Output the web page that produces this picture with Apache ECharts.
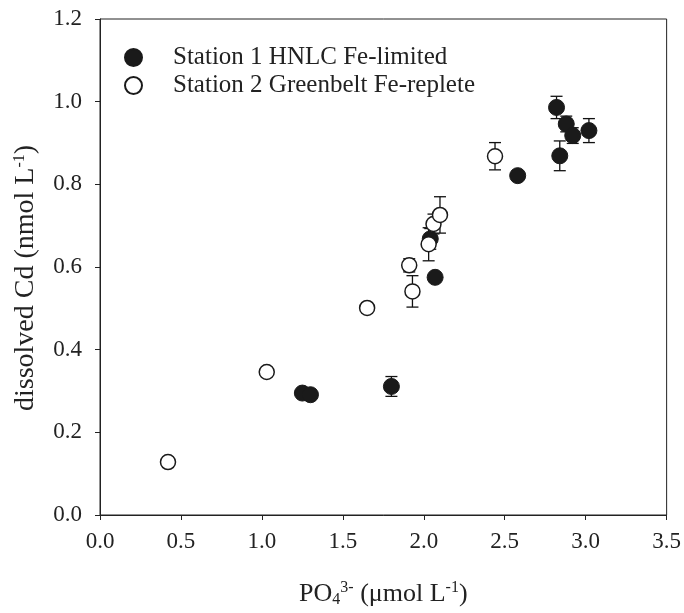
<!DOCTYPE html>
<html>
<head>
<meta charset="utf-8">
<script src="https://cdn.jsdelivr.net/npm/echarts@6/dist/echarts.min.js"></script>
<style>
html,body{margin:0;padding:0;background:#fff;}
#chart{width:684px;height:613px;}
</style>
</head>
<body>
<div id="chart"></div>
<script>
// Station 1 HNLC Fe-limited (filled)
var s1X = [1.25, 1.30, 1.80, 2.04, 2.07, 2.58, 2.82, 2.84, 2.88, 2.92, 3.02];
var s1Y = [0.295, 0.291, 0.311, 0.668, 0.575, 0.821, 0.986, 0.869, 0.946, 0.918, 0.930];
var s1Err = [0, 0, 0.024, 0.025, 0, 0, 0.027, 0.036, 0.019, 0.019, 0.029];
// Station 2 Greenbelt Fe-replete (open)
var s2X = [0.42, 1.03, 1.65, 1.91, 1.93, 2.03, 2.06, 2.10, 2.44];
var s2Y = [0.128, 0.346, 0.501, 0.604, 0.541, 0.655, 0.704, 0.726, 0.868];
var s2Err = [0, 0, 0, 0.016, 0.038, 0.040, 0.024, 0.044, 0.033];

var seriesNames = ["Station 1 HNLC Fe-limited", "Station 2 Greenbelt Fe-replete"];

var font = "'Liberation Serif', 'Times New Roman', serif";

function zip(xs, ys) {
  return xs.map(function (x, i) { return [x, ys[i]]; });
}
function errData(xs, ys, es) {
  var out = [];
  xs.forEach(function (x, i) {
    if (es[i] > 0) out.push([x, ys[i] - es[i], ys[i] + es[i]]);
  });
  return out;
}

// 误差棒
function renderErr(params, api) {
  var x = api.value(0);
  var lo = api.coord([x, api.value(1)]);
  var hi = api.coord([x, api.value(2)]);
  var cap = 6;
  var st = { stroke: "#111", lineWidth: 1.3 };
  return {
    type: "group",
    children: [
      { type: "line", shape: { x1: lo[0], y1: lo[1], x2: hi[0], y2: hi[1] }, style: st },
      { type: "line", shape: { x1: lo[0] - cap, y1: lo[1], x2: lo[0] + cap, y2: lo[1] }, style: st },
      { type: "line", shape: { x1: hi[0] - cap, y1: hi[1], x2: hi[0] + cap, y2: hi[1] }, style: st }
    ]
  };
}

var myChart = echarts.init(document.getElementById("chart"));
var option = {
  backgroundColor: "#fff",
  animation: false,
  grid: {
    left: 100,
    right: 12,
    top: 19,
    bottom: 93,
    show: true,
    borderColor: "#222",
    borderWidth: 1
  },
  legend: {
    left: 119,
    top: 40,
    orient: "vertical",
    itemWidth: 17,
    itemHeight: 17,
    itemGap: 3,
    data: [
      { name: seriesNames[0], icon: "circle" },
      { name: seriesNames[1], icon: "circle" }
    ],
    textStyle: { fontFamily: font, fontSize: 25, color: "#222", padding: [0, 0, 0, 26] }
  },
  xAxis: {
    type: "value",
    min: 0,
    max: 3.5,
    interval: 0.5,
    name: "{n|PO}{sub|4}{sup|3-}{n| (μmol L}{sup|-1}{n|)}",
    nameLocation: "middle",
    nameGap: 65,
    nameTextStyle: {
      fontFamily: font,
      color: "#222",
      rich: {
        n: { fontFamily: font, fontSize: 26, color: "#222" },
        sub: { fontFamily: font, fontSize: 16, color: "#222", verticalAlign: "bottom", padding: [12, 0, 0, 0] },
        sup: { fontFamily: font, fontSize: 16, color: "#222", verticalAlign: "top", padding: [0, 0, 12, 0] }
      }
    },
    splitLine: { show: false },
    axisLine: { show: true, onZero: false, lineStyle: { color: "#222", width: 1 } },
    axisTick: { show: true, inside: false, length: 5, lineStyle: { color: "#222" } },
    axisLabel: {
      fontFamily: font,
      fontSize: 23,
      color: "#222",
      margin: 15,
      formatter: function (v) { return v.toFixed(1); }
    }
  },
  yAxis: {
    type: "value",
    min: 0,
    max: 1.2,
    interval: 0.2,
    name: "{n|dissolved Cd (nmol L}{sup|-1}{n|)}",
    nameLocation: "middle",
    nameGap: 60,
    nameTextStyle: {
      fontFamily: font,
      color: "#222",
      padding: [0, 22, 0, 0],
      rich: {
        n: { fontFamily: font, fontSize: 28, color: "#222" },
        sup: { fontFamily: font, fontSize: 16, color: "#222", verticalAlign: "top", padding: [0, 0, 12, 0] }
      }
    },
    splitLine: { show: false },
    axisLine: { show: true, onZero: false, lineStyle: { color: "#222", width: 1 } },
    axisTick: { show: true, inside: false, length: 5, lineStyle: { color: "#222" } },
    axisLabel: {
      fontFamily: font,
      fontSize: 23,
      color: "#222",
      margin: 18,
      formatter: function (v) { return v.toFixed(1); }
    }
  },
  series: [
    {
      type: "custom",
      renderItem: renderErr,
      data: errData(s1X, s1Y, s1Err),
      encode: { x: 0, y: [1, 2] },
      z: 1,
      silent: true
    },
    {
      type: "custom",
      renderItem: renderErr,
      data: errData(s2X, s2Y, s2Err),
      encode: { x: 0, y: [1, 2] },
      z: 1,
      silent: true
    },
    {
      name: seriesNames[0],
      type: "scatter",
      symbol: "circle",
      symbolSize: 16,
      z: 3,
      itemStyle: { color: "#1a1a1a", borderColor: "#1a1a1a", borderWidth: 1, opacity: 1 },
      data: zip(s1X, s1Y)
    },
    {
      name: seriesNames[1],
      type: "scatter",
      symbol: "circle",
      symbolSize: 15,
      z: 4,
      itemStyle: { color: "#fff", borderColor: "#1a1a1a", borderWidth: 1.5, opacity: 1 },
      data: zip(s2X, s2Y)
    }
  ]
};
myChart.setOption(option);
</script>
</body>
</html>
